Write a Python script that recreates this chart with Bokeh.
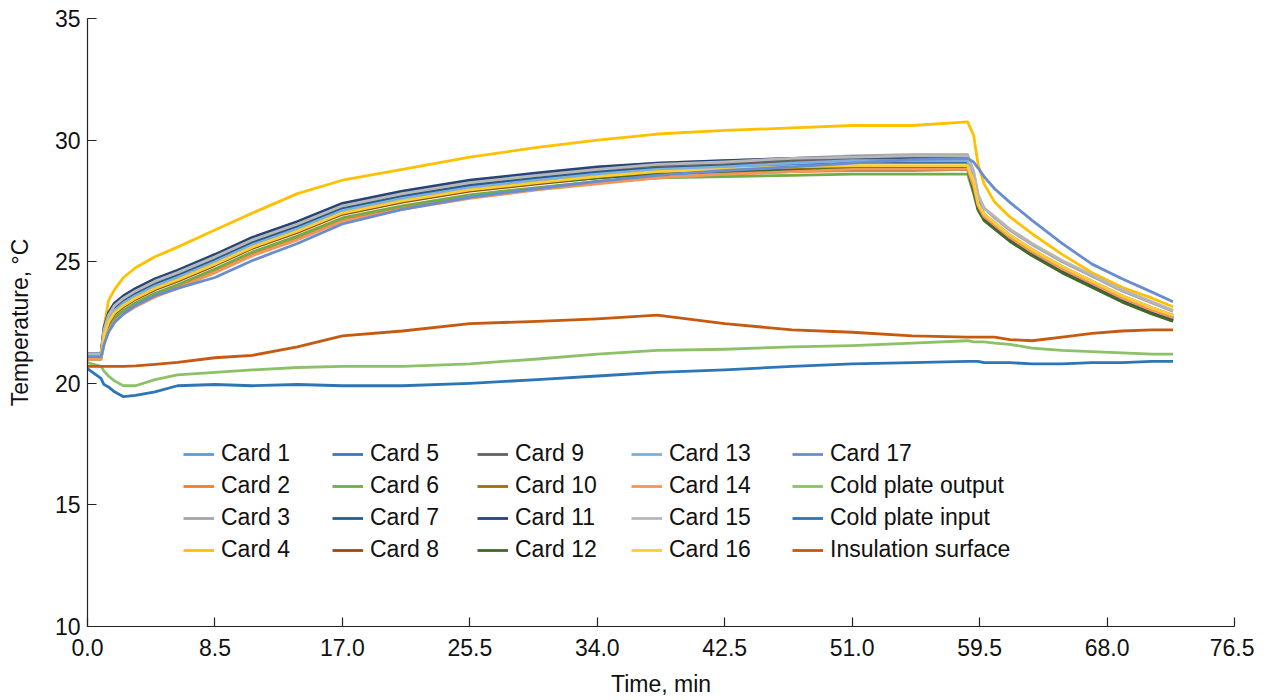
from bokeh.plotting import figure
from bokeh.models import Legend, LegendItem, FixedTicker, NumeralTickFormatter, Range1d
from bokeh.embed import file_html
from bokeh.resources import INLINE

# ---------------- data ----------------
time_min = [0, 0.9, 1.1, 1.4, 1.8, 2.4, 3.2, 4.5, 6, 8.5, 11, 14, 17, 21, 25.5, 30, 34, 38,
            42.5, 47, 51, 55, 58.7, 59.1, 59.4, 59.8, 60.5, 61.5, 63, 65, 67, 69, 71, 72.4]

card_1 = [21.2, 21.2, 22.0, 22.6, 23.0, 23.3, 23.6, 24.0, 24.35, 25.0, 25.7, 26.35, 27.1, 27.6, 28.05, 28.35, 28.6,
          28.8, 28.9, 29.0, 29.1, 29.1, 29.1, 28.3, 27.4, 26.9, 26.5, 26.0, 25.4, 24.7, 24.1, 23.5, 23.0, 22.7]
card_2 = [21.0, 21.0, 21.6, 22.2, 22.6, 22.9, 23.2, 23.6, 23.95, 24.6, 25.3, 25.95, 26.7, 27.2, 27.7, 28.0, 28.25,
          28.45, 28.6, 28.7, 28.75, 28.75, 28.8, 28.0, 27.2, 26.8, 26.4, 25.95, 25.35, 24.65, 24.05, 23.45, 22.95, 22.65]
card_3 = [21.2, 21.2, 22.2, 22.8, 23.2, 23.55, 23.85, 24.25, 24.6, 25.25, 25.95, 26.6, 27.35, 27.85, 28.3, 28.6, 28.85,
          29.05, 29.15, 29.25, 29.35, 29.4, 29.4, 28.7, 27.7, 27.2, 26.8, 26.3, 25.7, 25.0, 24.4, 23.8, 23.3, 22.95]
card_4 = [21.2, 21.2, 22.3, 23.4, 23.85, 24.35, 24.75, 25.2, 25.6, 26.3, 27.0, 27.8, 28.35, 28.8, 29.3, 29.7, 30.0,
          30.25, 30.4, 30.5, 30.6, 30.6, 30.75, 30.2, 29.0, 28.2, 27.45, 26.85, 26.15, 25.3, 24.55, 23.95, 23.5, 23.15]
card_5 = [21.2, 21.2, 22.0, 22.6, 23.05, 23.35, 23.65, 24.05, 24.4, 25.05, 25.75, 26.4, 27.15, 27.65, 28.1, 28.4, 28.65,
          28.85, 28.95, 29.1, 29.2, 29.25, 29.25, 28.4, 27.45, 26.95, 26.6, 26.1, 25.5, 24.8, 24.2, 23.6, 23.1, 22.8]
card_6 = [21.0, 21.0, 21.8, 22.3, 22.7, 23.0, 23.3, 23.7, 24.05, 24.7, 25.4, 26.05, 26.8, 27.3, 27.75, 28.05, 28.3,
          28.45, 28.5, 28.55, 28.6, 28.6, 28.6, 27.8, 27.1, 26.7, 26.35, 25.85, 25.25, 24.55, 23.95, 23.35, 22.85, 22.55]
card_7 = [21.1, 21.1, 22.1, 22.7, 23.1, 23.4, 23.7, 24.1, 24.45, 25.1, 25.8, 26.45, 27.2, 27.7, 28.15, 28.45, 28.7,
          28.85, 28.95, 29.05, 29.1, 29.1, 29.1, 28.2, 27.2, 26.75, 26.4, 25.9, 25.3, 24.6, 24.0, 23.4, 22.9, 22.6]
card_8 = [21.1, 21.1, 21.9, 22.45, 22.85, 23.15, 23.45, 23.85, 24.2, 24.85, 25.55, 26.2, 26.95, 27.45, 27.9, 28.2, 28.45,
          28.65, 28.75, 28.85, 28.9, 28.9, 28.9, 28.1, 27.25, 26.8, 26.45, 25.95, 25.35, 24.65, 24.05, 23.45, 22.95, 22.65]
card_9 = [21.2, 21.2, 22.2, 22.8, 23.2, 23.5, 23.8, 24.2, 24.55, 25.2, 25.9, 26.55, 27.3, 27.8, 28.25, 28.55, 28.8,
          28.95, 29.05, 29.15, 29.2, 29.2, 29.2, 28.3, 27.3, 26.85, 26.5, 26.0, 25.4, 24.7, 24.1, 23.5, 23.0, 22.7]
card_10 = [21.1, 21.1, 21.95, 22.55, 22.95, 23.25, 23.55, 23.95, 24.3, 24.95, 25.65, 26.3, 27.05, 27.55, 28.0, 28.3, 28.5,
           28.65, 28.75, 28.8, 28.85, 28.85, 28.85, 28.0, 27.2, 26.75, 26.4, 25.9, 25.3, 24.6, 24.0, 23.4, 22.9, 22.6]
card_11 = [21.2, 21.2, 22.3, 22.9, 23.3, 23.6, 23.9, 24.3, 24.65, 25.3, 26.0, 26.65, 27.4, 27.9, 28.35, 28.65, 28.9,
           29.05, 29.15, 29.25, 29.3, 29.3, 29.3, 28.3, 27.2, 26.75, 26.4, 25.9, 25.3, 24.6, 24.0, 23.4, 22.9, 22.6]
card_12 = [21.1, 21.1, 21.9, 22.5, 22.9, 23.2, 23.5, 23.9, 24.25, 24.9, 25.6, 26.25, 27.0, 27.5, 27.95, 28.25, 28.45,
           28.6, 28.7, 28.75, 28.8, 28.8, 28.8, 27.9, 27.15, 26.7, 26.35, 25.85, 25.25, 24.55, 23.95, 23.35, 22.85, 22.55]
card_13 = [21.2, 21.2, 22.0, 22.6, 23.0, 23.3, 23.6, 24.0, 24.35, 25.0, 25.7, 26.35, 27.1, 27.6, 28.05, 28.35, 28.6,
           28.8, 28.9, 29.05, 29.15, 29.15, 29.15, 28.3, 27.35, 26.9, 26.55, 26.05, 25.45, 24.75, 24.15, 23.55, 23.05, 22.75]
card_14 = [21.0, 21.0, 21.6, 22.15, 22.55, 22.85, 23.15, 23.55, 23.9, 24.55, 25.25, 25.9, 26.65, 27.15, 27.6, 27.95, 28.2,
           28.45, 28.6, 28.7, 28.8, 28.8, 28.8, 28.1, 27.3, 26.85, 26.5, 26.0, 25.4, 24.7, 24.1, 23.5, 23.0, 22.7]
card_15 = [21.2, 21.2, 22.2, 22.8, 23.2, 23.5, 23.8, 24.2, 24.55, 25.2, 25.9, 26.55, 27.3, 27.8, 28.25, 28.55, 28.8,
           29.0, 29.1, 29.25, 29.3, 29.35, 29.35, 28.7, 27.75, 27.2, 26.85, 26.35, 25.75, 25.05, 24.45, 23.85, 23.35, 23.0]
card_16 = [21.1, 21.1, 21.95, 22.5, 22.9, 23.2, 23.5, 23.9, 24.25, 24.9, 25.6, 26.25, 27.0, 27.5, 27.95, 28.25, 28.5,
           28.7, 28.8, 28.9, 28.95, 28.95, 28.95, 28.3, 27.4, 26.95, 26.6, 26.1, 25.5, 24.8, 24.2, 23.6, 23.1, 22.8]
card_17 = [21.1, 21.1, 21.6, 22.1, 22.5, 22.85, 23.2, 23.6, 23.9, 24.35, 25.05, 25.75, 26.55, 27.15, 27.65, 28.0, 28.3,
           28.55, 28.75, 28.9, 29.05, 29.2, 29.25, 29.1, 28.85, 28.5, 28.0, 27.45, 26.7, 25.75, 24.9, 24.3, 23.75, 23.35]
cold_plate_output = [20.85, 20.7, 20.5, 20.3, 20.1, 19.9, 19.9, 20.15, 20.35, 20.45, 20.55, 20.65, 20.7, 20.7, 20.8,
                     21.0, 21.2, 21.35, 21.4, 21.5, 21.55, 21.65, 21.75, 21.7, 21.7, 21.7, 21.65, 21.6, 21.45, 21.35,
                     21.3, 21.25, 21.2, 21.2]
cold_plate_input = [20.6, 20.2, 19.95, 19.85, 19.65, 19.45, 19.5, 19.65, 19.9, 19.95, 19.9, 19.95, 19.9, 19.9, 20.0,
                    20.15, 20.3, 20.45, 20.55, 20.7, 20.8, 20.85, 20.9, 20.9, 20.9, 20.85, 20.85, 20.85, 20.8, 20.8,
                    20.85, 20.85, 20.9, 20.9]
insulation_surface = [20.7, 20.7, 20.7, 20.7, 20.7, 20.7, 20.72, 20.78, 20.86, 21.05, 21.15, 21.5, 21.95, 22.15, 22.45,
                      22.55, 22.65, 22.8, 22.45, 22.2, 22.1, 21.95, 21.9, 21.9, 21.9, 21.9, 21.9, 21.8, 21.75, 21.9,
                      22.05, 22.15, 22.2, 22.2]

series_names = ["Card 1", "Card 2", "Card 3", "Card 4", "Card 5", "Card 6", "Card 7", "Card 8", "Card 9",
                "Card 10", "Card 11", "Card 12", "Card 13", "Card 14", "Card 15", "Card 16", "Card 17",
                "Cold plate output", "Cold plate input", "Insulation surface"]
series_values = [card_1, card_2, card_3, card_4, card_5, card_6, card_7, card_8, card_9, card_10, card_11,
                 card_12, card_13, card_14, card_15, card_16, card_17, cold_plate_output, cold_plate_input,
                 insulation_surface]
series_colors = ["#5B9BD5", "#ED7D31", "#A5A5A5", "#FFC000", "#4472C4", "#70AD47", "#255E91", "#9E480E",
                 "#636363", "#997300", "#264478", "#43682B", "#7CAFDD", "#F1975A", "#B7B7B7", "#FFCD33",
                 "#698ED0", "#8CC168", "#2E75B6", "#C55A11"]

x_ticks = [0, 8.5, 17, 25.5, 34, 42.5, 51, 59.5, 68, 76.5]
y_ticks = [10, 15, 20, 25, 30, 35]
x_title = "Time, min"
y_title = "Temperature, °C"

FONT = "Liberation Sans"

# ---------------- figure ----------------
p = figure(frame_width=1147, frame_height=608,
           min_border_left=87, min_border_top=18, min_border_right=20, min_border_bottom=60,
           x_range=Range1d(0, 76.5), y_range=Range1d(10, 35),
           output_backend="svg", toolbar_location=None, background_fill_color="white")
p.outline_line_color = None
p.xgrid.visible = False
p.ygrid.visible = False

renderers = []
for name, vals, col in zip(series_names, series_values, series_colors):
    r = p.line(time_min, vals, line_color=col, line_width=2.8, line_join="round")
    renderers.append(r)

# axes
for ax in (p.xaxis[0], p.yaxis[0]):
    ax.axis_line_color = "#222222"
    ax.axis_line_width = 1.2
    ax.major_tick_line_color = "#222222"
    ax.major_tick_line_width = 1.2
    ax.major_tick_in = 9
    ax.major_tick_out = 0
    ax.minor_tick_in = 0
    ax.minor_tick_out = 0
    ax.major_label_text_font = FONT
    ax.major_label_text_font_size = "23px"
    ax.major_label_text_color = "#111111"
    ax.axis_label_text_font = FONT
    ax.axis_label_text_font_size = "23px"
    ax.axis_label_text_font_style = "normal"
    ax.axis_label_text_color = "#111111"

p.xaxis.ticker = FixedTicker(ticks=x_ticks)
p.yaxis.ticker = FixedTicker(ticks=y_ticks)
p.xaxis.formatter = NumeralTickFormatter(format="0.0")
p.yaxis.formatter = NumeralTickFormatter(format="0")
p.xaxis.axis_label = x_title
p.yaxis.axis_label = y_title
p.xaxis.axis_label_text_align = "right"   # reference title sits a little left of centre
p.xaxis.major_label_standoff = 12
p.yaxis.major_label_standoff = 7
p.xaxis.axis_label_standoff = 12
p.yaxis.axis_label_standoff = 19

# legend: five columns of four rows
col_x = [96, 245, 390, 544, 705]
for c in range(5):
    items = [LegendItem(label=series_names[i], renderers=[renderers[i]]) for i in range(c * 4, c * 4 + 4)]
    leg = Legend(items=items, location=(col_x[c], 63), orientation="vertical",
                 label_text_font=FONT, label_text_font_size="23px", label_text_color="#111111",
                 glyph_width=31, glyph_height=26, label_height=26, label_standoff=7, spacing=5,
                 padding=0, margin=0, border_line_alpha=0, background_fill_alpha=0)
    p.add_layout(leg, "center")

open("out.html", "w").write(file_html(p, INLINE))
